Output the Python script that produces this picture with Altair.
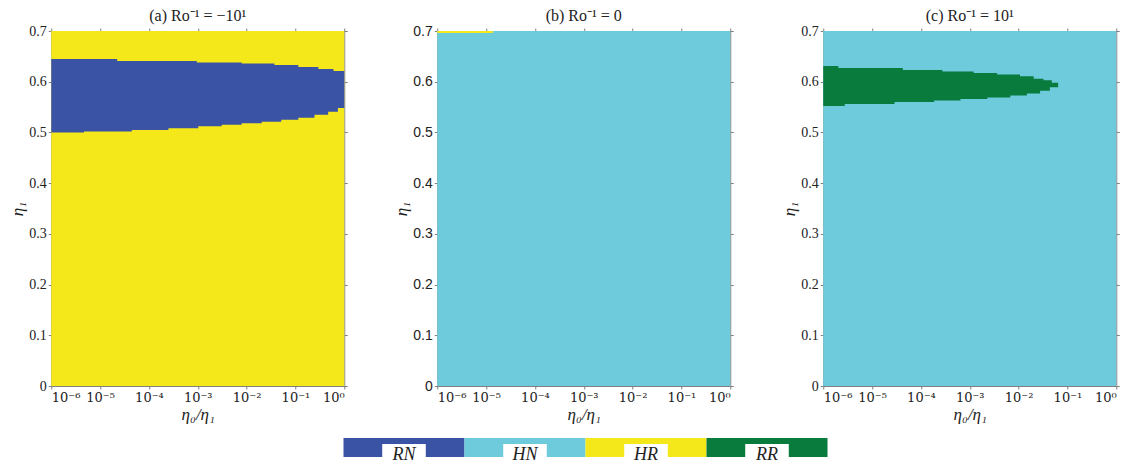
import altair as alt
import pandas as pd

# ---------------- data ----------------
CLASSES = ["RN", "HN", "HR", "RR"]
COLORS = ["#3A53A4", "#6DCBDC", "#F4E71A", "#087B3D"]

X_EXPONENTS = [-6, -5, -4, -3, -2, -1, 0]          # log10(eta0/eta1) ticks
Y_TICKS = [0, 0.1, 0.2, 0.3, 0.4, 0.5, 0.6, 0.7]

# panel (a): RN region inside HR background
A_UP_EDGES = [-6, -4.65, -3.02, -2.10, -1.43, -0.94, -0.53, -0.22, 0]
A_UP_VALS = [0.645, 0.641, 0.638, 0.636, 0.633, 0.629, 0.625, 0.621]
A_LO_EDGES = [-6, -5.33, -4.35, -3.60, -2.99, -2.51, -2.10, -1.69, -1.29,
              -0.94, -0.61, -0.33, -0.13, 0]
A_LO_VALS = [0.500, 0.502, 0.505, 0.508, 0.512, 0.515, 0.518, 0.521, 0.525,
             0.529, 0.535, 0.541, 0.548]

# panel (b): thin HR strip inside HN background
B_UP_EDGES = [-6, -4.86]
B_UP_VALS = [0.700]
B_LO_EDGES = [-6, -4.86]
B_LO_VALS = [0.696]

# panel (c): RR region inside HN background
C_UP_EDGES = [-6, -5.69, -4.37, -3.56, -2.92, -2.44, -1.97, -1.69, -1.49, -1.32, -1.19]
C_UP_VALS = [0.631, 0.627, 0.623, 0.620, 0.617, 0.614, 0.611, 0.606, 0.603, 0.598]
C_LO_EDGES = [-6, -5.56, -4.54, -3.73, -3.19, -2.64, -2.17, -1.83, -1.56, -1.36, -1.19]
C_LO_VALS = [0.552, 0.556, 0.560, 0.563, 0.566, 0.569, 0.573, 0.577, 0.582, 0.589]

TITLES = ["(a) Ro⁻¹ = −10¹", "(b) Ro⁻¹ = 0", "(c) Ro⁻¹ = 10¹"]
BACKGROUND = ["HR", "HN", "HN"]
REGION = ["RN", "HR", "RR"]


def step_value(edges, vals, m):
    for i in range(len(vals)):
        if edges[i] <= m < edges[i + 1]:
            return vals[i]
    return None


def region_table(region, up_e, up_v, lo_e, lo_v):
    rows = []
    edges = sorted(set(up_e) | set(lo_e))
    last = None
    for a, b in zip(edges[:-1], edges[1:]):
        m = (a + b) / 2
        hi = step_value(up_e, up_v, m)
        lo = step_value(lo_e, lo_v, m)
        if hi is None or lo is None:
            continue
        rows.append(dict(x=a, y=lo, y2=hi, cls=region))
        last = dict(x=b, y=lo, y2=hi, cls=region)
    rows.append(last)
    return pd.DataFrame(rows)


regions = [
    region_table(REGION[0], A_UP_EDGES, A_UP_VALS, A_LO_EDGES, A_LO_VALS),
    region_table(REGION[1], B_UP_EDGES, B_UP_VALS, B_LO_EDGES, B_LO_VALS),
    region_table(REGION[2], C_UP_EDGES, C_UP_VALS, C_LO_EDGES, C_LO_VALS),
]

SERIF = "Liberation Serif"
SANS = "Liberation Sans"
AXC = "#808080"
SUP = "['⁻⁶','⁻⁵','⁻⁴','⁻³','⁻²','⁻¹','⁰']"

color_scale = alt.Scale(domain=CLASSES, range=COLORS)
xs = alt.Scale(domain=[-6, 0], nice=False, zero=False)
ys = alt.Scale(domain=[0, 0.7], nice=False, zero=True)

W, H = 293, 355


def make_panel(i):
    bg_df = pd.DataFrame([dict(x=-6, x2=0, y=0, y2=0.7, cls=BACKGROUND[i])])
    ylabel_font = SANS if i == 1 else SERIF
    bg = alt.Chart(bg_df).mark_rect().encode(
        x=alt.X("x:Q", scale=xs, axis=alt.Axis(
            values=X_EXPONENTS, labelExpr="'10' + " + SUP + "[datum.value + 6]",
            labelFont="DejaVu Serif", labelFontSize=13,
            title="η₀/η₁", orient="bottom")),
        x2="x2:Q",
        y=alt.Y("y:Q", scale=ys, axis=alt.Axis(
            values=Y_TICKS, format="~g", title="η₁", orient="left",
            labelFont=ylabel_font)),
        y2="y2:Q",
        color=alt.Color("cls:N", scale=color_scale, legend=None),
    )
    reg = alt.Chart(regions[i]).mark_area(interpolate="step-after").encode(
        x=alt.X("x:Q", scale=xs, axis=None),
        y=alt.Y("y:Q", scale=ys, axis=None),
        y2="y2:Q",
        color=alt.Color("cls:N", scale=color_scale, legend=None),
    )
    frame = alt.Chart(bg_df).mark_rect(opacity=0).encode(
        x=alt.X("x:Q", scale=xs, axis=alt.Axis(
            values=X_EXPONENTS, labels=False, title=None, orient="top")),
        x2="x2:Q",
        y=alt.Y("y:Q", scale=ys, axis=alt.Axis(
            values=Y_TICKS, labels=False, title=None, orient="right")),
        y2="y2:Q",
    )
    return alt.layer(bg, reg, frame).resolve_axis(
        x="independent", y="independent"
    ).properties(
        width=W, height=H,
        title=alt.TitleParams(text=TITLES[i], font=SERIF, fontSize=16,
                              fontWeight="normal", color="#222", offset=0),
    )


top = alt.hconcat(*[make_panel(i) for i in range(3)], spacing=93, bounds="flush")

legend_df = pd.DataFrame({"cls": CLASSES, "i": list(range(len(CLASSES)))})
lx = alt.Scale(domain=[0, 4], nice=False, zero=False)
lbase = alt.Chart(legend_df).transform_calculate(
    x0="datum.i", x1="datum.i + 1", b0="datum.i + 0.32", b1="datum.i + 0.68",
    xc="datum.i + 0.5")
lrect = lbase.mark_rect().encode(
    x=alt.X("x0:Q", scale=lx, axis=None), x2="x1:Q",
    y=alt.value(0), y2=alt.value(19),
    color=alt.Color("cls:N", scale=color_scale, legend=None))
lbox = lbase.mark_rect(color="white").encode(
    x=alt.X("b0:Q", scale=lx, axis=None), x2="b1:Q",
    y=alt.value(6), y2=alt.value(19))
ltext = lbase.mark_text(font=SERIF, fontStyle="italic", fontSize=18,
                        color="#222", baseline="middle").encode(
    x=alt.X("xc:Q", scale=lx, axis=None), y=alt.value(17), text="cls:N")
legend = alt.layer(lrect, lbox, ltext).properties(width=484, height=19)

chart = alt.vconcat(top, legend, spacing=16, center=True).configure_view(
    stroke=None
).configure_axis(
    grid=False, domainColor=AXC, tickColor=AXC, tickSize=3,
    labelFont=SERIF, labelFontSize=14, labelColor="#222", labelPadding=2,
    titleFont=SERIF, titleFontStyle="italic", titleFontWeight="normal",
    titleFontSize=17, titleColor="#222", titlePadding=2,
).properties(padding={"left": 0, "top": 0, "right": 0, "bottom": 0})

chart.save("out.html", embed_options={"renderer": "svg", "actions": False})
